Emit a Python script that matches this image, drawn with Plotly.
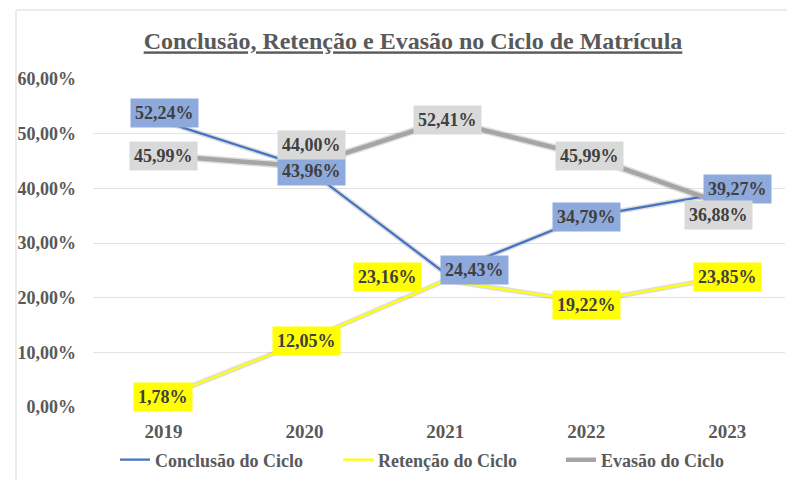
import plotly.graph_objects as go

anos = ["2019", "2020", "2021", "2022", "2023"]
conclusao = [52.24, 43.96, 24.43, 34.79, 39.27]
retencao = [1.78, 12.05, 23.16, 19.22, 23.85]
evasao = [45.99, 44.00, 52.41, 45.99, 36.88]
y_ticks = [0, 10, 20, 30, 40, 50, 60]

FONT = "Liberation Serif"
TXT = "#595959"

def fmt(v):
    return f"{v:.2f}".replace(".", ",") + "%"

series = [
    ("Conclusão do Ciclo", conclusao, "#4472C4", 2.25, "#8EA9DB",
     [(1, 8), (7, -4), (29, 3), (0, 0), (10, 3)]),
    ("Retenção do Ciclo", retencao, "#FFFF00", 2.25, "#FFFF00",
     [(0, 0), (2, 0), (-58, 3), (0, -3), (0, 0)]),
    ("Evasão do Ciclo", evasao, "#A5A5A5", 4.5, "#D9D9D9",
     [(0, 0), (7, 21), (2, 0), (3, 0), (-9, -10)]),
]

fig = go.Figure()
# soft shadow under lines
for name, vals, col, w, bg, offs in series:
    fig.add_trace(go.Scatter(x=anos, y=vals, mode="lines",
                             line=dict(color="rgba(0,0,0,0.13)", width=w + 3),
                             showlegend=False, hoverinfo="skip"))
for name, vals, col, w, bg, offs in series:
    fig.add_trace(go.Scatter(x=anos, y=vals, mode="lines", name=f"<b>{name}</b>",
                             line=dict(color=col, width=w)))

annotations = []
for name, vals, col, w, bg, offs in series:
    for i, (v, (dx, dy)) in enumerate(zip(vals, offs)):
        annotations.append(dict(
            x=i, y=v, xref="x", yref="y", text=f"<b>{fmt(v)}</b>",
            showarrow=False, xshift=dx, yshift=dy, bgcolor=bg, borderpad=4,
            font=dict(family=FONT, size=18, color="#404040")))

W, H = 787, 480
L, R, T, B = 93, 2, 79, 73
pw, ph = W - L - R, H - T - B

def px(xp):
    return (xp - L) / pw

def py(yp):
    return (H - B - yp) / ph

fig.update_layout(
    width=W, height=H,
    margin=dict(l=L, r=R, t=T, b=B, autoexpand=False),
    paper_bgcolor="white", plot_bgcolor="white",
    title=dict(text="<b><u>Conclusão, Retenção e Evasão no Ciclo de Matrícula</u></b>",
               x=413 / W, xanchor="center", y=1 - 41 / H, yanchor="middle",
               font=dict(family=FONT, size=24, color=TXT)),
    xaxis=dict(type="category", range=[-0.5, 4.41], showgrid=False,
               showline=False, zeroline=False, ticks="",
               tickprefix="<b>", ticksuffix="</b>",
               tickfont=dict(family=FONT, size=19, color=TXT),
               ticklabelstandoff=11),
    yaxis=dict(range=[0, 60], tickvals=y_ticks,
               ticktext=[f"<b>{t:.2f}".replace(".", ",") + "%</b>" for t in y_ticks],
               showgrid=True, gridcolor="#E3E3E3", gridwidth=1,
               zeroline=False, showline=False, ticks="",
               tickfont=dict(family=FONT, size=18, color=TXT),
               ticklabelstandoff=16),
    legend=dict(orientation="h", x=px(115), xanchor="left",
                y=py(460), yanchor="middle",
                font=dict(family=FONT, size=18, color=TXT),
                itemwidth=30, entrywidth=178, entrywidthmode="pixels",
                tracegroupgap=0),
    annotations=annotations,
    shapes=[dict(type="rect", xref="paper", yref="paper",
                 x0=px(16), x1=px(792), y0=py(485), y1=py(10),
                 line=dict(color="#D9D9D9", width=1), layer="below")],
    showlegend=True,
)

fig.write_html("out.html", config={"displayModeBar": False},
               post_script="document.body.style.margin='0';document.body.style.overflow='hidden';")
